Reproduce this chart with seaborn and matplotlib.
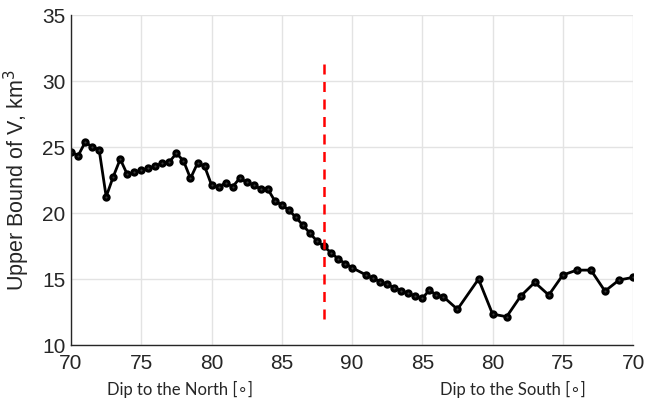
import matplotlib
matplotlib.use('Agg')
import matplotlib.pyplot as plt
import seaborn as sns
import numpy as np

# Upper bound of V, dip to the north (degrees)
north_dip = [70, 70.5, 71, 71.5, 72, 72.5, 73, 73.5, 74, 74.5, 75, 75.5, 76, 76.5,
             77, 77.5, 78, 78.5, 79, 79.5, 80, 80.5, 81, 81.5, 82, 82.5, 83, 83.5,
             84, 84.5, 85, 85.5, 86, 86.5, 87, 87.5, 88, 88.5, 89, 89.5, 90]
north_v = [24.67, 24.36, 25.38, 25.05, 24.8, 21.26, 22.77, 24.11, 22.95, 23.1, 23.27,
           23.4, 23.6, 23.78, 23.9, 24.55, 23.98, 22.65, 23.79, 23.58, 22.14, 21.97,
           22.32, 22.02, 22.65, 22.37, 22.14, 21.84, 21.84, 20.95, 20.63, 20.25, 19.7,
           19.1, 18.5, 17.9, 17.5, 17.02, 16.56, 16.2, 15.88]

# dip to the south (degrees)
south_dip = [89, 88.5, 88, 87.5, 87, 86.5, 86, 85.5, 85, 84.5, 84, 83.5, 82.5, 81,
             80, 79, 78, 77, 76, 75, 74, 73, 72, 71, 70]
south_v = [15.33, 15.08, 14.82, 14.62, 14.36, 14.14, 13.94, 13.73, 13.56, 14.19, 13.81,
           13.68, 12.73, 15.02, 12.37, 12.17, 13.73, 14.77, 13.81, 15.33, 15.7, 15.7,
           14.11, 14.95, 15.15]

tick_pos = [70, 75, 80, 85, 90, 95, 100, 105, 110]
tick_labels = ['70', '75', '80', '85', '90', '85', '80', '75', '70']
cutoff_dip = 88

# south side is drawn mirrored about 90
x_all = np.concatenate([north_dip, 180 - np.array(south_dip)])
v_all = np.concatenate([north_v, south_v])

sns.set_style('white')
plt.rcParams['font.family'] = ['Liberation Sans', 'DejaVu Sans']
axis_grey = '#262626'

fig = plt.figure(figsize=(6.46, 4.03), dpi=100)
ax = fig.add_axes([0.110, 0.143, 0.870, 0.819])

sns.lineplot(x=x_all, y=v_all, ax=ax, color='black', linewidth=2, marker='o',
             markersize=3.8, markerfacecolor='#3a3a3a', markeredgecolor='black',
             markeredgewidth=2.2, sort=False)

ax.plot([cutoff_dip, cutoff_dip], [12, 31.5], color='red', linestyle='--',
        linewidth=1.8, dashes=(4, 3))

ax.set_xlim(70, 110)
ax.set_ylim(10, 35)
ax.set_xticks(tick_pos)
ax.set_xticklabels(tick_labels)
ax.set_yticks([10, 15, 20, 25, 30, 35])
ax.grid(True, color='#e3e3e3', linewidth=1)
ax.set_axisbelow(True)
ax.tick_params(direction='in', length=4, labelsize=15, colors=axis_grey, pad=4)
ax.tick_params(axis='x', pad=6)
for s in ['top', 'right']:
    ax.spines[s].set_visible(False)
for s in ['left', 'bottom']:
    ax.spines[s].set_color(axis_grey)
    ax.spines[s].set_linewidth(1)

ax.set_ylabel('Upper Bound of V, km$^3$', fontsize=15.5, labelpad=7, color=axis_grey)

fig.text(180 / 646, 1 - 389 / 403, 'Dip to the North [∘]', ha='center', va='center',
         fontsize=12, family=['Lato', 'DejaVu Sans'])
fig.text(513 / 646, 1 - 389 / 403, 'Dip to the South [∘]', ha='center', va='center',
         fontsize=12, family=['Lato', 'DejaVu Sans'])

fig.savefig('out.png', dpi=100)
